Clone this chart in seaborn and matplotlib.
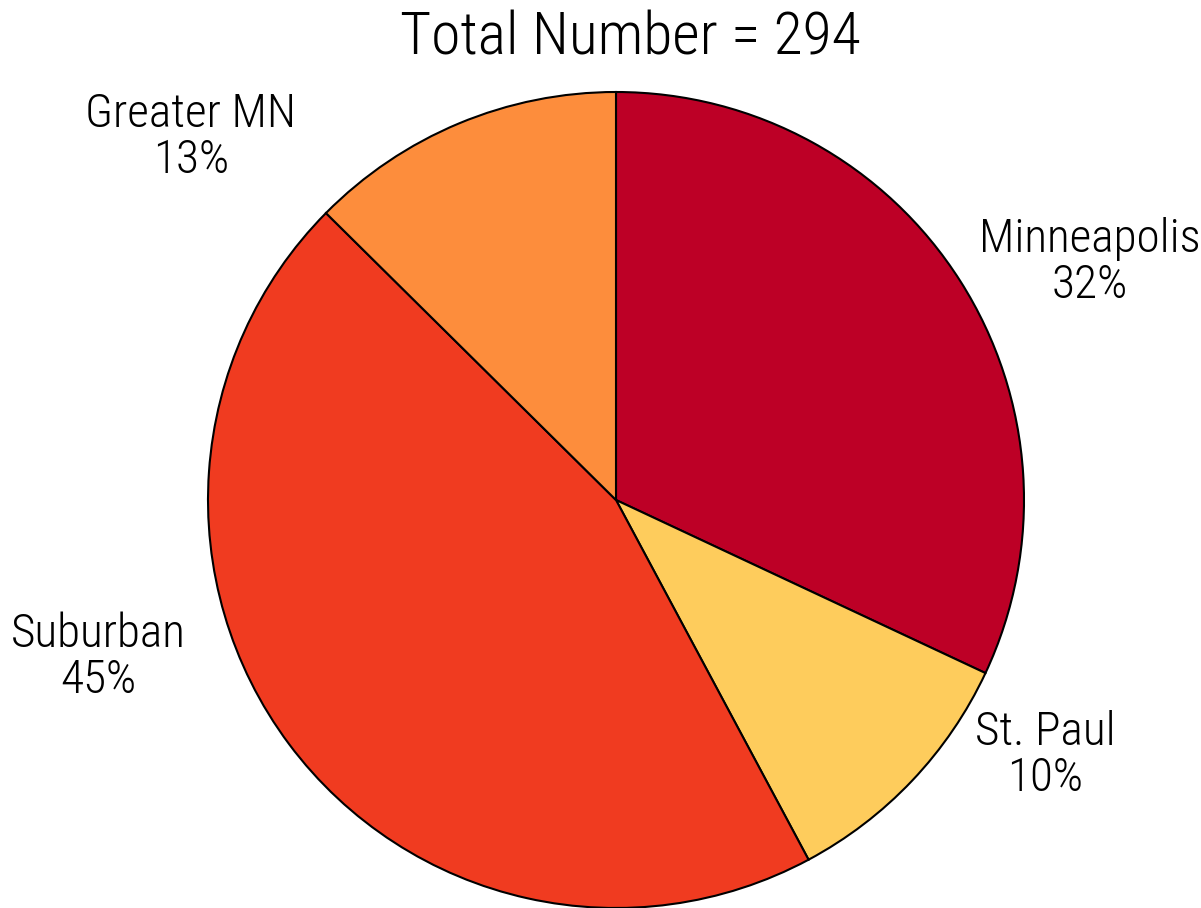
import matplotlib
matplotlib.use("Agg")
import matplotlib.pyplot as plt
import seaborn as sns

sns.set_theme(style="white")
plt.rcParams['font.family'] = ['Roboto Condensed', 'Liberation Sans', 'DejaVu Sans']
plt.rcParams['font.weight'] = 300

categories = ["Minneapolis", "St. Paul", "Suburban", "Greater MN"]
counts = [94, 30, 133, 37]
percent_labels = ["32%", "10%", "45%", "13%"]
colors = ["#BD0026", "#FECC5C", "#F03B20", "#FD8D3C"]
title = "Total Number = 294"

fig = plt.figure(figsize=(12.01, 9.08), dpi=100)
W, H = 1201, 908
cx, cy, r = 616, 500, 408
ax = fig.add_axes([(cx - r) / W, (H - cy - r) / H, 2 * r / W, 2 * r / H])

wedges, _ = ax.pie(counts, colors=colors, startangle=90, counterclock=False,
                   wedgeprops=dict(edgecolor="black", linewidth=1.5))
for w in wedges:
    w.set_clip_on(False)
ax.set_xlim(-1, 1)
ax.set_ylim(-1, 1)
ax.set_aspect("equal")
ax.axis("off")

label_pos = {
    "Minneapolis": (1090, 262),
    "St. Paul": (1045, 755),
    "Suburban": (98, 657),
    "Greater MN": (191, 137),
}
for cat, pct in zip(categories, percent_labels):
    px, py = label_pos[cat]
    ax.text((px - cx) / r, (cy - py) / r, f"{cat}\n{pct}", ha="center", va="center",
            fontsize=34, linespacing=1.03, color="black", fontweight=300)

fig.text(630 / W, 1 - 38 / H, title, ha="center", va="center", fontsize=43,
         color="black", fontweight=300)

fig.savefig("out.png", dpi=100)
